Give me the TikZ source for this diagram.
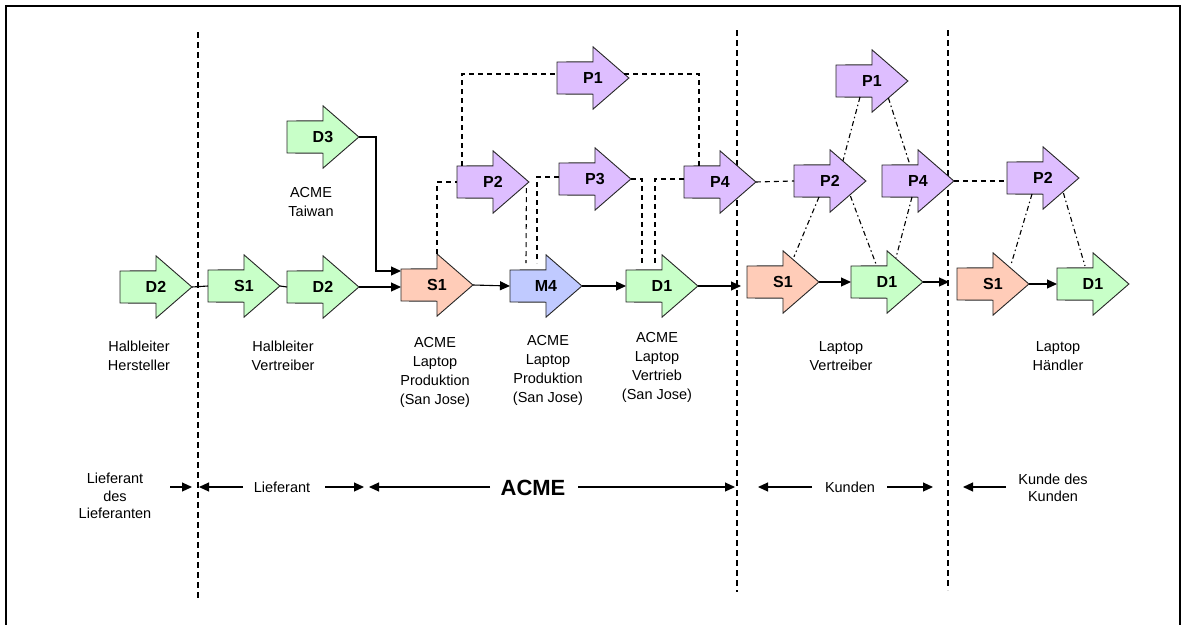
\documentclass[tikz,border=0pt]{standalone}
\usepackage{fontspec}
\setmainfont{Liberation Sans}
\usetikzlibrary{calc,arrows.meta,backgrounds}

\definecolor{flowgreen}{HTML}{C8FFC8}
\definecolor{flowsalmon}{HTML}{FFCCB8}
\definecolor{flowblue}{HTML}{C0CAFF}
\definecolor{flowviolet}{HTML}{DEBEFF}

\tikzset{
  blockbox/.style={rectangle, minimum width=71.5pt, minimum height=62pt, inner sep=0pt,
    anchor=west, font=\bfseries\fontsize{16}{16}\selectfont},
  blockedge/.style={draw=black!85, line width=0.9pt, line join=miter},
  link/.style={dash pattern=on 5pt off 4pt, line width=1.1pt},
  tie/.style={dash pattern=on 5pt off 3pt on 1.5pt off 3pt, line width=1.1pt},
  flow/.style={line width=1.1pt, -{Triangle[length=10pt,width=9pt]}},
  plainflow/.style={line width=1.1pt},
  boundary/.style={dash pattern=on 6pt off 4pt, line width=1.2pt},
  caption/.style={font=\fontsize{14.5}{19}\selectfont, align=center, inner sep=0pt},
  tightcaption/.style={font=\fontsize{14.5}{17.5}\selectfont, align=center, inner sep=0pt},
}

% block arrow: name, left x, centre y, fill colour, label
\newcommand\flowblock[5]{%
  \node[blockbox] (#1) at (#2,#3) {#5\hspace{15pt}};
  \begin{scope}[on background layer]
    \draw[blockedge, fill=#4] ($(#1.west)+(0,-16)$) -- ($(#1.north)+(0,15)$) -- (#1.north)
      -- (#1.east) -- (#1.south) -- ($(#1.south)+(0,-15)$) -- ($(#1.west)+(0,16)$) -- cycle;
  \end{scope}
}

\begin{document}
\begin{tikzpicture}[x=1pt,y=-1pt]
\useasboundingbox (0,0) rectangle (1183,624);
\clip (0,0) rectangle (1183,624);

% outer frame
\draw[line width=2pt] (6,6) rectangle (1180,660);

% region boundaries
\coordinate (bndAtop) at (198,32);  \coordinate (bndAbot) at (198,601);
\coordinate (bndBtop) at (737,30);  \coordinate (bndBbot) at (737,592);
\coordinate (bndCtop) at (948,30);  \coordinate (bndCbot) at (948,590);
\begin{scope}[on background layer]
  \draw[boundary] (bndAtop) -- (bndAbot);
  \draw[boundary] (bndBtop) -- (bndBbot);
  \draw[boundary] (bndCtop) -- (bndCbot);
\end{scope}

% process blocks
\flowblock{hsD}{120}{287}{flowgreen}{D2}
\flowblock{hvS}{208}{286}{flowgreen}{S1}
\flowblock{hvD}{287}{287}{flowgreen}{D2}
\flowblock{twD}{287}{137}{flowgreen}{D3}
\flowblock{prS}{401}{285}{flowsalmon}{S1}
\flowblock{prM}{510}{286}{flowblue}{M4}
\flowblock{vtD}{626}{286}{flowgreen}{D1}
\flowblock{acP1}{557}{78}{flowviolet}{P1}
\flowblock{acP2}{457}{182}{flowviolet}{P2}
\flowblock{acP3}{559}{179}{flowviolet}{P3}
\flowblock{acP4}{684}{182}{flowviolet}{P4}
\flowblock{kuS}{747}{282}{flowsalmon}{S1}
\flowblock{kuD}{851}{282}{flowgreen}{D1}
\flowblock{kuP1}{836}{81}{flowviolet}{P1}
\flowblock{kuP2}{794}{181}{flowviolet}{P2}
\flowblock{kuP4}{882}{181}{flowviolet}{P4}
\flowblock{haS}{957}{284}{flowsalmon}{S1}
\flowblock{haD}{1057}{284}{flowgreen}{D1}
\flowblock{haP2}{1007}{178}{flowviolet}{P2}

% material flow
\draw[plainflow] (hsD.east) -- (hvS.west);
\draw[plainflow] (hvS.east) -- (hvD.west);
\draw[flow] (hvD.east) -- (hvD.east -| prS.west);
\draw[flow] (twD.east) -| ($(prS.west)+(-25,-14)$) -- ($(prS.west)+(0,-14)$);
\draw[flow] (prS.east) -- (prM.west);
\draw[flow] (prM.east) -- (vtD.west);
\draw[flow, shorten >=6pt] (vtD.east) -- (vtD.east -| kuS.west);
\draw[flow] (kuS.east) -- (kuD.west);
\draw[flow, shorten >=8pt] (kuD.east) -- (kuD.east -| haS.west);
\draw[flow] (haS.east) -- (haD.west);

% planning links inside ACME
\draw[link] (prS.north) |- (acP2.west);
\draw[link] ($(acP2.west)+(5,-16)$) |- ($(acP1.west)+(0,-4)$);
\draw[link] ($(acP1.east)+(-4.5,-4)$) -| ($(acP4.west)+(15,-16)$);
\draw[link] ($(acP2.east)+(-2.5,6)$) -- ($(prM.west)+(16,-23)$);
\draw[link] ($(acP3.west)+(0,-2)$) -| ($(prM.west)+(27,-23)$);
\draw[link] (acP3.east) -| ($(vtD.west)+(16,-21)$);
\draw[link] ($(acP4.west)+(0,-3)$) -| ($(vtD.west)+(29,-21)$);
\draw[link] (acP4.east) -- (kuP2.west);
\draw[link] (kuP4.east) -- (kuP4.east -| haP2.west);

% planning ties at the customers
\draw[tie] ($(kuP1.west)+(24,16)$) -- ($(kuP2.north)+(13,11)$);
\draw[tie] ($(kuP1.east)+(-19.5,17)$) -- ($(kuP4.west)+(28,-16)$);
\draw[tie] ($(kuP2.west)+(25,16)$) -- ($(kuS.north)+(11,6)$);
\draw[tie] ($(kuP2.east)+(-15.5,15)$) -- ($(kuD.west)+(25,-18)$);
\draw[tie] ($(kuP4.west)+(30,16)$) -- ($(kuD.north)+(9,7)$);
\draw[tie] ($(haP2.west)+(25,16)$) -- ($(haS.north)+(18,12)$);
\draw[tie] ($(haP2.east)+(-15.5,15)$) -- ($(haD.west)+(28,-18)$);

% site captions
\node[caption] (capTw) at (311,202) {ACME\\Taiwan};
\node[caption] (capHH) at (139,356) {Halbleiter\\Hersteller};
\node[caption] (capHV) at (283,356) {Halbleiter\\Vertreiber};
\node[caption] (capPa) at (435,372) {ACME\\Laptop\\Produktion\\(San Jose)};
\node[caption] (capPb) at (548,370) {ACME\\Laptop\\Produktion\\(San Jose)};
\node[caption] (capVt) at (657,367) {ACME\\Laptop\\Vertrieb\\(San Jose)};
\node[caption] (capLV) at (841,356) {Laptop\\Vertreiber};
\node[caption] (capLH) at (1058,356) {Laptop\\Händler};

% region spans
\node[tightcaption] (spLL) at (115,496) {Lieferant\\des\\Lieferanten};
\node[caption] (spL) at (282,487) {Lieferant};
\node[font=\bfseries\fontsize{22}{22}\selectfont, inner sep=0pt] (spA) at (533,488) {ACME};
\node[caption] (spK) at (850,487) {Kunden};
\node[tightcaption] (spKK) at (1053,488) {Kunde des\\Kunden};

\coordinate (llA) at (170,487); \coordinate (llB) at (192,487);
\coordinate (lfA) at (243,487); \coordinate (lfB) at (199,487);
\coordinate (lfC) at (325,487); \coordinate (lfD) at (364,487);
\coordinate (amA) at (490,487); \coordinate (amB) at (369,487);
\coordinate (amC) at (578,487); \coordinate (amD) at (735,487);
\coordinate (knA) at (812,487); \coordinate (knB) at (758,487);
\coordinate (knC) at (887,487); \coordinate (knD) at (933,487);
\coordinate (kkA) at (1006,487); \coordinate (kkB) at (963,487);
\draw[flow] (llA) -- (llB);
\draw[flow] (lfA) -- (lfB);
\draw[flow] (lfC) -- (lfD);
\draw[flow] (amA) -- (amB);
\draw[flow] (amC) -- (amD);
\draw[flow] (knA) -- (knB);
\draw[flow] (knC) -- (knD);
\draw[flow] (kkA) -- (kkB);
\end{tikzpicture}
\end{document}
